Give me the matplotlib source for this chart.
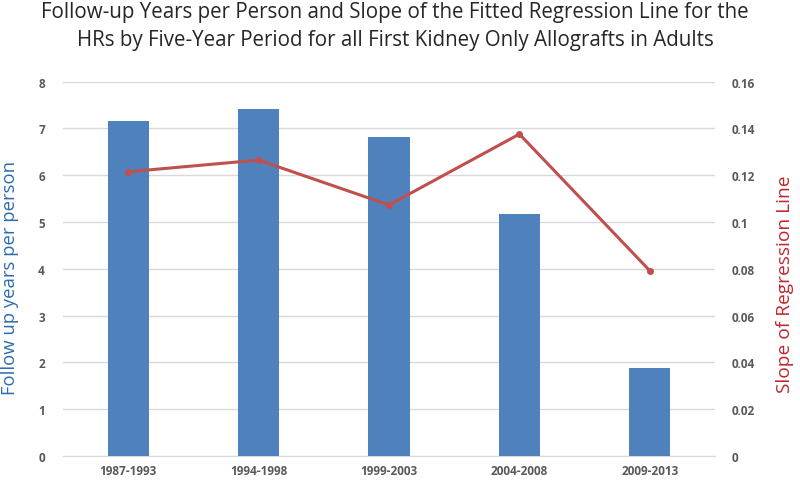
import matplotlib
matplotlib.use("Agg")
import matplotlib.pyplot as plt
import numpy as np

periods = ["1987-1993", "1994-1998", "1999-2003", "2004-2008", "2009-2013"]
followup_years = [7.16, 7.41, 6.82, 5.17, 1.88]
slope = [0.1215, 0.1265, 0.1073, 0.1376, 0.0792]

left_ticks = [0, 1, 2, 3, 4, 5, 6, 7, 8]
right_ticks = [0, 0.02, 0.04, 0.06, 0.08, 0.1, 0.12, 0.14, 0.16]
right_tick_labels = ["0", "0.02", "0.04", "0.06", "0.08", "0.1", "0.12", "0.14", "0.16"]

plt.rcParams['font.family'] = ['Open Sans', 'DejaVu Sans']

fig = plt.figure(figsize=(8, 4.81), dpi=100)
ax = fig.add_axes([63/800, 1-457/481, (715-63)/800, (457-82.7)/481])
ax2 = ax.twinx()

x = np.arange(len(periods))
ax.bar(x, followup_years, width=0.315, color="#4F81BD", zorder=3)
ax.set_xlim(-0.5, len(periods)-0.5)
ax.set_ylim(0, 8)
ax.set_yticks(left_ticks)
ax.yaxis.grid(True, color="#D9D9D9", linewidth=1)
ax.set_axisbelow(True)
ax.set_xticks(x)
ax.set_xticklabels(periods)

ax2.plot(x, slope, color="#C0504D", linewidth=2.2, marker="o", markersize=4, zorder=4)
ax2.set_ylim(0, 0.16)
ax2.set_yticks(right_ticks)
ax2.set_yticklabels(right_tick_labels)

for a in (ax, ax2):
    for s in ("top", "left", "right"):
        a.spines[s].set_visible(False)
    a.spines["bottom"].set_visible(False)
    a.tick_params(length=0, colors="#595959", labelsize=8.5)
    for lab in a.get_yticklabels() + a.get_xticklabels():
        lab.set_fontweight("bold")
ax.spines["bottom"].set_visible(True)
ax.spines["bottom"].set_color("#D9D9D9")
ax.tick_params(axis="y", pad=13)
ax.tick_params(axis="x", pad=6)
ax2.tick_params(axis="y", pad=12)

ax.set_ylabel("Follow up years per person", color="#2E6BB0", fontsize=13.3)
ax.yaxis.set_label_coords(-0.068, 0.478)
ax2.set_ylabel("Slope of Regression Line", color="#C0262D", fontsize=13.8)
ax2.yaxis.set_label_coords(1.093, 0.462)

fig.text(0.494, 0.995, "Follow-up Years per Person and Slope of the Fitted Regression Line for the\nHRs by Five-Year Period for all First Kidney Only Allografts in Adults",
         ha="center", va="top", fontsize=14.8, color="#262626", linespacing=1.42)

fig.savefig("out.png", dpi=100)
